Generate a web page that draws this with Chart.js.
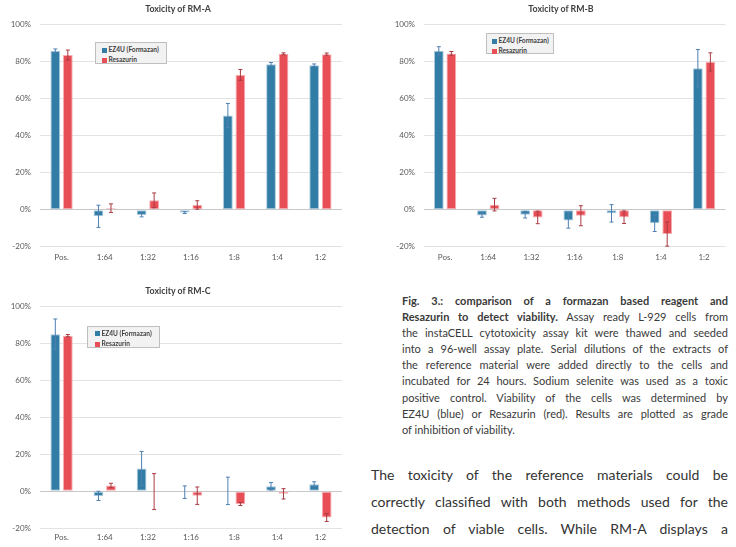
<!DOCTYPE html>
<html>
<head>
<meta charset="utf-8">
<script src="https://cdn.jsdelivr.net/npm/chart.js@4/dist/chart.umd.min.js"></script>
<style>
  body { margin: 0; background: #fff; width: 736px; height: 547px; position: relative; overflow: hidden; font-family: Lato, sans-serif; }
  canvas, .title, .legend, .caption, .body-text { position: absolute; }
  .title { width: 140px; text-align: center; font-size: 8.8px; font-weight: bold; color: #404040; line-height: 10px; }
  .legend { background: #f2f2f2; border: 1px solid #bfbfbf; box-sizing: border-box; font-size: 6.6px; font-weight: bold; color: #404040; }
  .legend .li { position: absolute; line-height: 8px; white-space: nowrap; }
  .legend .sw { display: inline-block; width: 5px; height: 5px; margin-right: 1.5px; vertical-align: -0.5px; }
  .caption { left: 402px; top: 293px; width: 326px; font-size: 11px; line-height: 16.1px; color: #3a3a3a; }
  .body-text { left: 371px; top: 461px; width: 357px; font-size: 14px; line-height: 27px; color: #333; }
  .ln { text-align: justify; text-align-last: justify; white-space: nowrap; }
  .ln.last { text-align-last: left; }
</style>
</head>
<body>
<canvas id="chartA" width="370" height="270" style="left:0;top:0"></canvas>
<canvas id="chartB" width="366" height="270" style="left:370px;top:0"></canvas>
<canvas id="chartC" width="370" height="267" style="left:0;top:280px"></canvas>

<div class="title" style="left:108px;top:4px">Toxicity of RM-A</div>
<div class="title" style="left:491px;top:4px">Toxicity of RM-B</div>
<div class="title" style="left:108px;top:286px">Toxicity of RM-C</div>

<div class="legend" style="left:95px;top:42px;width:72px;height:22px">
  <div class="li" style="left:6px;top:2px"><span class="sw" style="background:#317da6"></span>EZ4U (Formazan)</div>
  <div class="li" style="left:6px;top:12px"><span class="sw" style="background:#e84e56"></span>Resazurin</div>
</div>
<div class="legend" style="left:486px;top:33px;width:68px;height:21px">
  <div class="li" style="left:5px;top:2px"><span class="sw" style="background:#317da6"></span>EZ4U (Formazan)</div>
  <div class="li" style="left:5px;top:12px"><span class="sw" style="background:#e84e56"></span>Resazurin</div>
</div>
<div class="legend" style="left:87px;top:326px;width:73px;height:22px">
  <div class="li" style="left:7px;top:1.5px"><span class="sw" style="background:#317da6"></span>EZ4U (Formazan)</div>
  <div class="li" style="left:7px;top:12px"><span class="sw" style="background:#e84e56"></span>Resazurin</div>
</div>

<div class="caption">
  <div class="ln"><b>Fig. 3.: comparison of a formazan based reagent and</b></div>
  <div class="ln"><b>Resazurin to detect viability.</b> Assay ready L-929 cells from</div>
  <div class="ln">the instaCELL cytotoxicity assay kit were thawed and seeded</div>
  <div class="ln">into a 96-well assay plate. Serial dilutions of the extracts of</div>
  <div class="ln">the reference material were added directly to the cells and</div>
  <div class="ln">incubated for 24 hours. Sodium selenite was used as a toxic</div>
  <div class="ln">positive control. Viability of the cells was determined by</div>
  <div class="ln">EZ4U (blue) or Resazurin (red). Results are plotted as grade</div>
  <div class="ln last">of inhibition of viability.</div>
</div>

<div class="body-text">
  <div class="ln">The toxicity of the reference materials could be</div>
  <div class="ln">correctly classified with both methods used for the</div>
  <div class="ln">detection of viable cells. While RM-A displays a</div>
</div>

<script>
// dilutions
var dilutions = ["Pos.", "1:64", "1:32", "1:16", "1:8", "1:4", "1:2"];
var yTicks = [-20, 0, 20, 40, 60, 80, 100];

// RM-A
var ezA = [85.7, -3.6, -2.9, -1.6, 50.8, 78.4, 77.9];
var ezErrA = [1, 6, 1, 0.5, 6.5, 1, 0.7];
var rzA = [83.4, 0.8, 5, 2.5, 72.7, 84.1, 83.9];
var rzErrA = [2.7, 2.3, 4, 2.3, 2.9, 0.5, 0.6];

// RM-B
var ezB = [85.7, -3.1, -2.7, -5.8, -2, -7.4, 76.3];
var ezErrB = [2.2, 1, 1.8, 4.2, 4.7, 4.4, 10.1];
var rzB = [84.3, 2.7, -4.2, -3.3, -4.1, -13.2, 79.7];
var rzErrB = [1, 3.4, 3.4, 5.4, 3.4, 6.5, 4.9];

// RM-C
var ezC = [84.7, -2.5, 12.3, -0.5, 0.2, 2.7, 3.8];
var ezErrC = [8.3, 2.5, 9.2, 3.4, 7.4, 2, 1.3];
var rzC = [84, 3.1, -0.2, -2.4, -6.9, -1.4, -14.2];
var rzErrC = [0.6, 1.2, 9.7, 4.7, 0.8, 2.8, 2.1];

var blue = "rgb(49,125,166)";
var blueEdge = "rgb(170,202,222)";
var blueErr = "rgb(78,128,178)";
var red = "rgb(232,78,86)";
var redEdge = "rgb(246,172,176)";
var redErr = "rgb(168,58,66)";

var errorBars = {
  id: "errorBars",
  afterDatasetsDraw: function(chart) {
    var ctx = chart.ctx;
    var y = chart.scales.y;
    chart.data.datasets.forEach(function(ds, i) {
      var meta = chart.getDatasetMeta(i);
      meta.data.forEach(function(bar, j) {
        var v = ds.data[j], e = ds.errors[j];
        var top = y.getPixelForValue(v + e);
        var bot = y.getPixelForValue(v - e);
        ctx.save();
        ctx.strokeStyle = ds.errorColor;
        ctx.lineWidth = 1;
        ctx.beginPath();
        ctx.moveTo(bar.x, top); ctx.lineTo(bar.x, bot);
        ctx.moveTo(bar.x - 2, top); ctx.lineTo(bar.x + 2, top);
        ctx.moveTo(bar.x - 2, bot); ctx.lineTo(bar.x + 2, bot);
        ctx.stroke();
        ctx.restore();
      });
    });
  }
};

function makeChart(id, ez, ezErr, rz, rzErr, lay) {
  new Chart(id, {
    type: "bar",
    data: {
      labels: dilutions,
      datasets: [{
        label: "EZ4U (Formazan)",
        data: ez,
        errors: ezErr,
        errorColor: blueErr,
        backgroundColor: blue,
        borderColor: blueEdge,
        borderWidth: 1,
        borderSkipped: false
      }, {
        label: "Resazurin",
        data: rz,
        errors: rzErr,
        errorColor: redErr,
        backgroundColor: red,
        borderColor: redEdge,
        borderWidth: 1,
        borderSkipped: false
      }]
    },
    options: {
      responsive: false,
      animation: false,
      categoryPercentage: 0.58,
      barPercentage: 0.78,
      layout: { padding: { top: lay.top, right: lay.right, bottom: 0, left: 0 } },
      plugins: {
        legend: { display: false },
        title: { display: false },
        tooltip: { enabled: false }
      },
      scales: {
        x: {
          grid: { display: false, drawTicks: false },
          border: { display: false },
          ticks: { color: "#595959", padding: lay.xPad, font: { family: "Lato", size: 8 } },
          afterFit: function(s) { s.height = lay.xH; }
        },
        y: {
          min: -20,
          max: 100,
          afterBuildTicks: function(s) { s.ticks = yTicks.map(function(v) { return { value: v }; }); },
          grid: {
            drawTicks: false,
            color: function(c) { return c.tick && c.tick.value === 0 ? "#c8c8c8" : "#e3e3e3"; }
          },
          border: { display: false },
          ticks: {
            color: "#595959",
            padding: lay.yPad,
            font: { family: "Lato", size: 8 },
            callback: function(v) { return v + "%"; }
          },
          afterFit: function(s) { s.width = lay.yW; }
        }
      }
    },
    plugins: [errorBars]
  });
}

makeChart("chartA", ezA, ezErrA, rzA, rzErrA, { top: 24.3, right: 28, xH: 23.3, xPad: 6.2, yW: 40, yPad: 9 });
makeChart("chartB", ezB, ezErrB, rzB, rzErrB, { top: 24.3, right: 10.3, xH: 23.3, xPad: 6.2, yW: 53.5, yPad: 8.5 });
makeChart("chartC", ezC, ezErrC, rzC, rzErrC, { top: 26, right: 28, xH: 18.7, xPad: 4.6, yW: 40, yPad: 9 });
</script>
</body>
</html>
